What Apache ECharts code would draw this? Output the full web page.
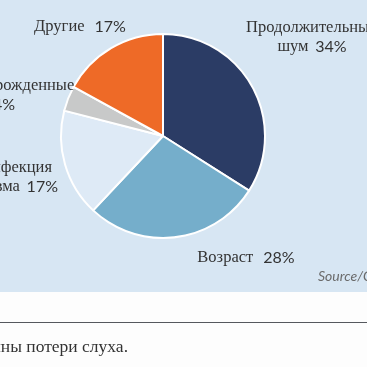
<!DOCTYPE html>
<html>
<head>
<meta charset="utf-8">
<script src="https://cdn.jsdelivr.net/npm/echarts@6/dist/echarts.min.js"></script>
<style>html,body{margin:0;padding:0;background:#fdfdfd}#c{width:367px;height:367px}</style>
</head>
<body>
<div id="c"></div>
<script>
const categories = ["Продолжительный шум", "Возраст", "Инфекция или травма", "Врожденные", "Другие"];
const values = [34, 28, 17, 4, 17];
const nameLines = [["Продолжительный", "шум"], ["Возраст"], ["Инфекция", "или травма"], ["Врожденные"], ["Другие"]];
const colors = ["#2b3c65", "#75aecb", "#deeaf6", "#c8c9c9", "#ee6a27"];
const sourceText = "Source/CDC";
const captionText = "Рис. 1. Основные причины потери слуха.";

// label layout (positions kept separate from data)
const labelPos = [
  {x: 312, y: 37, align: 'center'},
  {x: 246, y: 258, align: 'center'},
  {x: 58, y: 177, align: 'right'},
  {x: -16, y: 95, align: 'left'},
  {x: 80, y: 27, align: 'center'}
];

function fmt(p) {
  const i = p.dataIndex;
  const lines = nameLines[i];
  const pct = '{p|' + values[i] + '%}';
  if (i === 3) {
    return '{n|' + lines[0] + '}\n{q|' + values[i] + '%}';
  }
  if (i === 2) {
    return '{r|' + lines[0] + '}\n{n|' + lines[1] + '}  ' + pct;
  }
  if (lines.length === 2) return '{n|' + lines[0] + '}\n{n|' + lines[1] + '}  ' + pct;
  return '{n|' + lines[0] + '}   ' + pct;
}

const chart = echarts.init(document.getElementById('c'), null, {renderer: 'canvas'});
chart.setOption({
  animation: false,
  backgroundColor: '#fdfdfd',
  graphic: [
    {type: 'rect', z: -10, shape: {x: 0, y: 0, width: 367, height: 292}, style: {fill: '#d7e6f3'}},
    {type: 'line', shape: {x1: 0, y1: 322.5, x2: 367, y2: 322.5}, style: {stroke: '#55585e', lineWidth: 1}},
    {type: 'text', x: 128, y: 347, style: {text: captionText, align: 'right', verticalAlign: 'middle', font: '17.5px "Liberation Serif"', fill: '#333333'}},
    {type: 'text', x: 318, y: 276, style: {text: sourceText, align: 'left', verticalAlign: 'middle', font: 'italic 14px Lato', fill: '#6a6a6a'}}
  ],
  series: [{
    type: 'pie',
    center: [163, 136],
    radius: 102,
    startAngle: 90,
    clockwise: true,
    avoidLabelOverlap: false,
    data: categories.map((c, i) => ({name: c, value: values[i], itemStyle: {color: colors[i]}})),
    itemStyle: {borderColor: '#ffffff', borderWidth: 2},
    labelLine: {show: false},
    emphasis: {disabled: true},
    label: {
      show: true,
      position: 'outside',
      overflow: 'none',
      formatter: fmt,
      color: '#333333',
      lineHeight: 19,
      rich: {
        n: {fontFamily: '"Liberation Serif"', fontSize: 16.5, color: '#333333', lineHeight: 19},
        r: {fontFamily: '"Liberation Serif"', fontSize: 16.5, color: '#333333', lineHeight: 19, padding: [0, 6, 0, 0]},
        p: {fontFamily: 'Lato', fontSize: 16, color: '#333333', lineHeight: 19},
        q: {fontFamily: 'Lato', fontSize: 16, color: '#333333', lineHeight: 19, padding: [0, 0, 0, 9]}
      }
    },
    labelLayout: function (params) {
      const lp = labelPos[params.dataIndex];
      return {x: lp.x, y: lp.y, align: lp.align, verticalAlign: 'middle', hideOverlap: false, moveOverlap: null};
    }
  }]
});
</script>
</body>
</html>
